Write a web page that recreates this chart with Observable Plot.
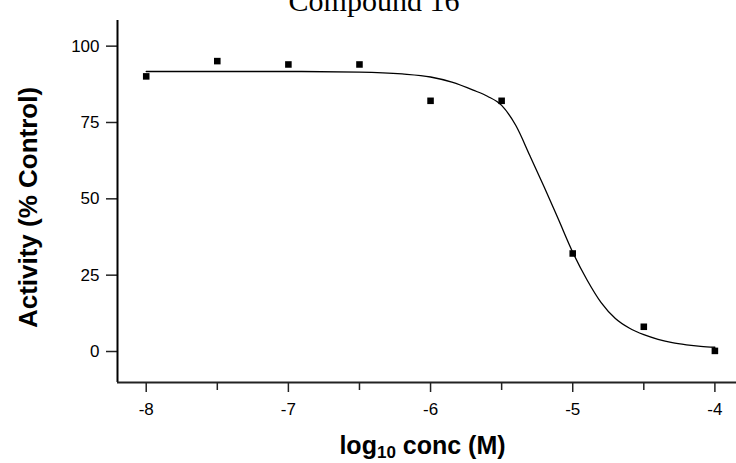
<!DOCTYPE html>
<html>
<head>
<meta charset="utf-8">
<script src="https://cdn.jsdelivr.net/npm/d3@7"></script>
<script src="https://cdn.jsdelivr.net/npm/@observablehq/plot@0.6"></script>
<style>
  html, body { margin: 0; padding: 0; background: #fff; }
  #chart svg { display: block; }
</style>
</head>
<body>
<div id="chart"></div>
<script>
// ---- data ----
const chartTitle = "Compound 16";
const xTitleMain = "log";
const xTitleSub = "10";
const xTitleRest = " conc (M)";
const yTitle = "Activity (% Control)";

// measured points
const logConc  = [-8, -7.5, -7, -6.5, -6, -5.5, -5, -4.5, -4];
const activity = [90.1, 95.1, 94.0, 94.0, 82.1, 82.1, 32.1, 8.1, 0.2];

// fitted curve
const fitLogConc = [-8, -7.5, -7, -6.5, -6.2, -6, -5.85, -5.7, -5.6, -5.5, -5.4, -5.3, -5.2, -5.1, -5, -4.9, -4.8, -4.7, -4.6, -4.5, -4.4, -4.3, -4.2, -4.1, -4];
const fitActivity = [91.7, 91.7, 91.7, 91.5, 90.9, 89.9, 88.2, 85.6, 83.6, 80.6, 74.0, 64.0, 53.8, 43.2, 32.5, 23.5, 16.0, 10.8, 7.6, 5.5, 4.0, 2.9, 2.2, 1.7, 1.4];

// ticks
const xTicks = [-8, -7, -6, -5, -4];
const xMinorTicks = [-7.5, -6.5, -5.5, -4.5];
const yTicks = [0, 25, 50, 75, 100];

// axis extents
const xDomain = [-8.202, -3.848];
const yDomain = [-10.15, 108.4];

// ---- tables built from the arrays ----
const points = logConc.map((x, i) => ({x, y: activity[i]}));
const fit = fitLogConc.map((x, i) => ({x, y: fitActivity[i]}));

const axisColor = "#222";
const fmt = d => String(d);

const plot = Plot.plot({
  width: 736,
  height: 463,
  marginLeft: 117,
  marginRight: 0,
  marginTop: 20,
  marginBottom: 81,
  style: {fontFamily: "'Liberation Sans', Arial, sans-serif", background: "#fff", color: "#000"},
  x: {domain: xDomain},
  y: {domain: yDomain},
  marks: [
    Plot.axisY(yTicks, {tickSize: 11, tickPadding: 7, fontSize: 17, label: null, tickFormat: fmt, stroke: axisColor, strokeWidth: 1.5, strokeOpacity: 1, fill: "#000"}),
    Plot.axisX(xTicks, {tickSize: 10, tickPadding: 10, fontSize: 17, label: null, tickFormat: fmt, stroke: axisColor, strokeWidth: 1.5, strokeOpacity: 1, fill: "#000"}),
    Plot.axisX(xMinorTicks, {tickSize: 8, tickPadding: 0, label: null, tickFormat: () => "", stroke: axisColor, strokeWidth: 1.5, strokeOpacity: 1}),
    Plot.ruleX([xDomain[0]], {stroke: "#000", strokeWidth: 2}),
    Plot.ruleY([yDomain[0]], {stroke: axisColor, strokeWidth: 2}),
    Plot.line(fit, {x: "x", y: "y", curve: "monotone-x", stroke: "#000", strokeWidth: 1.3}),
    Plot.dot(points, {x: "x", y: "y", symbol: "square", r: 3.7, fill: "#000", stroke: "none"})
  ]
});

document.getElementById("chart").appendChild(plot);

// ---- titles ----
const svg = d3.select(plot);

svg.append("text")
  .attr("x", 374)
  .attr("y", 11)
  .attr("text-anchor", "middle")
  .attr("font-family", "'Liberation Serif', 'Times New Roman', serif")
  .attr("font-size", 30)
  .attr("fill", "#000")
  .text(chartTitle);

const xt = svg.append("text")
  .attr("x", 422.5)
  .attr("y", 454)
  .attr("text-anchor", "middle")
  .attr("font-family", "'Liberation Sans', Arial, sans-serif")
  .attr("font-weight", "bold")
  .attr("font-size", 25)
  .attr("fill", "#000");
xt.append("tspan").text(xTitleMain);
xt.append("tspan").attr("font-size", 17).attr("dy", 4).text(xTitleSub);
xt.append("tspan").attr("dy", -4).text(xTitleRest);

svg.append("text")
  .attr("transform", "translate(36.5,207.5) rotate(-90)")
  .attr("text-anchor", "middle")
  .attr("font-family", "'Liberation Sans', Arial, sans-serif")
  .attr("font-weight", "bold")
  .attr("font-size", 26)
  .attr("fill", "#000")
  .text(yTitle);
</script>
</body>
</html>
